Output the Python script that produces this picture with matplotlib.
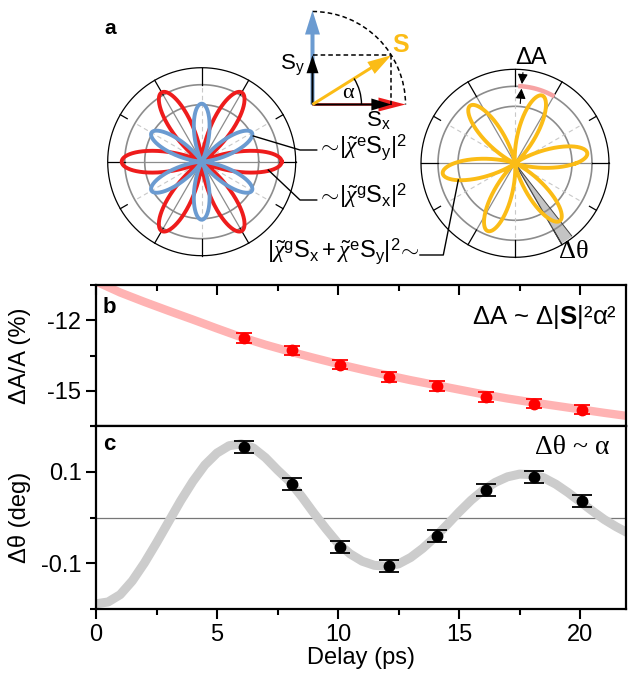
import numpy as np
import matplotlib
matplotlib.use("Agg")
import matplotlib.pyplot as plt
from matplotlib.patches import FancyArrow, Arc
from matplotlib.ticker import FixedLocator, MultipleLocator

plt.rcParams['font.family'] = ['Liberation Sans', 'DejaVu Sans']
plt.rcParams['mathtext.fontset'] = 'custom'
plt.rcParams['mathtext.rm'] = 'Liberation Sans'
plt.rcParams['mathtext.it'] = 'Liberation Serif:italic'
plt.rcParams['mathtext.bf'] = 'Liberation Sans:bold'
plt.rcParams['axes.unicode_minus'] = False

RED = '#ee1c1c'
BLUE = '#6b9bd1'
YELLOW = '#fbbc16'
PINK = '#ffb3b3'
GRAY = '#cccccc'

# ---- panel a : flower patterns (petal size in px of the polar frame) ----
red_amp = 80        # ~|chi_g Sx|^2
blue_amp = 58       # ~|chi_e Sy|^2
yellow_amp = 73     # ~|chi_g Sx + chi_e Sy|^2
yellow_rot = 8      # deg, rotation of the yellow pattern (delta theta)
alpha_deg = 32      # angle of S in the vector sketch

# ---- panel b ----
delay = [6.1, 8.1, 10.1, 12.1, 14.1, 16.1, 18.1, 20.1]
dA = [-12.76, -13.28, -13.89, -14.41, -14.79, -15.27, -15.55, -15.80]
dA_err = [0.2, 0.2, 0.2, 0.2, 0.2, 0.2, 0.2, 0.2]
fit_b_x = list(range(0, 23))
fit_b_y = [-10.35, -10.82, -11.22, -11.60, -11.97, -12.35, -12.72, -13.04,
           -13.33, -13.60, -13.86, -14.10, -14.33, -14.55, -14.75, -14.95,
           -15.15, -15.33, -15.49, -15.64, -15.79, -15.94, -16.08]

# ---- panel c ----
dth = [0.154, 0.073, -0.065, -0.105, -0.041, 0.060, 0.089, 0.037]
dth_err = [0.013, 0.013, 0.013, 0.013, 0.013, 0.013, 0.013, 0.013]
fit_c_x = np.arange(0, 22.5, 0.5)
fit_c_y = [-0.188, -0.184, -0.168, -0.138, -0.099, -0.055, -0.009, 0.037,
           0.079, 0.115, 0.141, 0.157, 0.161, 0.152, 0.131, 0.104, 0.079,
           0.046, 0.010, -0.024, -0.056, -0.079, -0.095, -0.104, -0.106,
           -0.101, -0.087, -0.067, -0.043, -0.016, 0.012, 0.038, 0.060,
           0.077, 0.089, 0.095, 0.094, 0.087, 0.073, 0.055, 0.035, 0.015,
           -0.004, -0.020, -0.034]

W, H = 628, 677
fig = plt.figure(figsize=(W / 100, H / 100), dpi=100)

R_OUT, R_MID, R_IN, R_BOX = 94, 77, 57, 97


def polar_frame(cx, cy):
    ax = fig.add_axes([(cx - R_BOX) / W, 1 - (cy + R_BOX) / H, 2 * R_BOX / W, 2 * R_BOX / H],
                      projection='polar')
    ax.set_rlim(0, R_BOX)
    ax.axis('off')
    th = np.linspace(0, 2 * np.pi, 361)
    ax.plot(th, np.full_like(th, R_OUT), color='black', lw=0.9)
    for r in (R_IN, R_MID):
        ax.plot(th, np.full_like(th, r), color='#8c8c8c', lw=1.2)
    for deg in range(0, 360, 30):
        t = np.deg2rad(deg)
        if deg % 60 == 0:
            ax.plot([t, t], [0, R_MID], color='#8c8c8c', lw=0.9)
        else:
            ax.plot([t, t], [0, R_MID], color='#c8c8c8', lw=0.8, ls=(0, (4, 3)))
        r0 = R_MID if (deg % 60 == 0 or deg % 90 == 0) else 86
        ax.plot([t, t], [r0, R_OUT], color='black', lw=0.9)
    return ax


theta = np.linspace(0, 2 * np.pi, 1441)

ax_l = polar_frame(201.7, 161.7)
ax_l.plot(theta, red_amp * np.cos(3 * theta) ** 2, color=RED, lw=2.8)
ax_l.plot(theta, blue_amp * np.sin(3 * theta) ** 2, color=BLUE, lw=2.8)

ax_r = polar_frame(515, 163.3)
wedge = np.deg2rad(np.linspace(-60, -60 + yellow_rot, 20))
ax_r.fill_between(wedge, 0, 92, color='#c4c4c4', lw=0)
for t in (wedge[0], wedge[-1]):
    ax_r.plot([t, t], [0, 92], color='#444444', lw=0.7)
arc_t = np.deg2rad(np.linspace(60, 88, 40))
ax_r.fill_between(arc_t, 75.5, 80, color='#f7a3a3', lw=0, zorder=3)
ax_r.plot(theta, yellow_amp * np.cos(3 * (theta - np.deg2rad(yellow_rot))) ** 2,
          color=YELLOW, lw=2.8, zorder=4)
ta = np.deg2rad(85)
for r_from, r_to in ((91, 79.5), (60, 75)):
    ax_r.annotate('', xy=(ta, r_to), xytext=(ta, r_from),
                  arrowprops=dict(arrowstyle='-|>', color='black', lw=0.8,
                                  mutation_scale=15, shrinkA=0, shrinkB=0),
                  zorder=5)

# ---- overlay in pixel coordinates for panel a sketch and labels ----
ov = fig.add_axes([0, 0, 1, 1])
ov.set_xlim(0, W)
ov.set_ylim(H, 0)
ov.axis('off')
ov.patch.set_visible(False)

ov.text(110, 28, 'a', fontsize=15, fontweight='bold', ha='center', va='center')

ox, oy = 312.5, 104.5
s_len = 93
sx = s_len * np.cos(np.deg2rad(alpha_deg))
sy = s_len * np.sin(np.deg2rad(alpha_deg))
ov.add_patch(Arc((ox, oy), 2 * s_len, 2 * s_len, theta1=-90, theta2=0,
                 color='black', lw=1.1, ls=(0, (3, 2))))
ov.plot([ox, ox + sx], [oy - sy, oy - sy], color='black', lw=1.1, ls=(0, (3, 2)))
ov.plot([ox + sx, ox + sx], [oy - sy, oy], color='black', lw=1.1, ls=(0, (3, 2)))
ov.add_patch(FancyArrow(ox, oy, 0, -94, width=4, head_width=15, head_length=24,
                        length_includes_head=True, color=BLUE, lw=0))
ov.add_patch(FancyArrow(ox, oy, 0, -sy, width=2, head_width=12, head_length=18,
                        length_includes_head=True, color='black', lw=0))
ov.add_patch(FancyArrow(ox, oy, 93, 0, width=2.4, head_width=14, head_length=27,
                        length_includes_head=True, color=RED, lw=0))
ov.add_patch(FancyArrow(ox, oy, sx, 0, width=2, head_width=12, head_length=20,
                        length_includes_head=True, color='black', lw=0))
ov.add_patch(FancyArrow(ox, oy, sx, -sy, width=3, head_width=14, head_length=24,
                        length_includes_head=True, color=YELLOW, lw=0))
ov.add_patch(Arc((ox, oy), 98, 98, theta1=-alpha_deg, theta2=0, color='black', lw=1))
ov.text(348, 94, 'α', fontsize=16, family='Liberation Serif', ha='center', va='center')
ov.text(401, 45, 'S', fontsize=18, fontweight='bold', color=YELLOW, ha='center', va='center')
ov.text(305, 65, r'S$_{\mathrm{y}}$', fontsize=16, ha='right', va='center')
ov.text(378, 120, r'S$_{\mathrm{x}}$', fontsize=16, ha='center', va='center')

ov.plot([253.3, 300, 316.7], [136, 150, 150], color='black', lw=1)
ov.text(317, 147, r'$\sim\!|\tilde{\chi}^{\mathrm{e}}\mathrm{S}_{\mathrm{y}}|^{2}$',
        fontsize=17, ha='left', va='center')
ov.plot([268.3, 300, 316.7], [170, 200, 200], color='black', lw=1)
ov.text(317, 196, r'$\sim\!|\tilde{\chi}^{\mathrm{g}}\mathrm{S}_{\mathrm{x}}|^{2}$',
        fontsize=17, ha='left', va='center')
ov.plot([458.3, 443.3, 420], [180, 255, 255], color='black', lw=1)
ov.text(420, 251, r'$|\tilde{\chi}^{\mathrm{g}}\mathrm{S}_{\mathrm{x}}+\tilde{\chi}^{\mathrm{e}}\mathrm{S}_{\mathrm{y}}|^{2}\!\sim$',
        fontsize=17, ha='right', va='center')
ov.text(531, 58, 'ΔA', fontsize=17, ha='center', va='center')
ov.text(574, 252, 'Δθ', fontsize=19, family='Liberation Serif', ha='center', va='center')

# ---- panels b and c ----
L, Wd = 96 / W, 530 / W
ax_b = fig.add_axes([L, 1 - 426 / H, Wd, 141 / H])
ax_c = fig.add_axes([L, 1 - 609.3 / H, Wd, 183.3 / H])

for ax in (ax_b, ax_c):
    ax.set_xlim(0, 21.9)
    for s in ax.spines.values():
        s.set_linewidth(1.6)
    ax.tick_params(labelsize=17, width=1.5)
    ax.tick_params(which='major', length=7)
    ax.tick_params(which='minor', length=4, width=1.5)
    ax.xaxis.set_major_locator(MultipleLocator(5))
    ax.xaxis.set_minor_locator(MultipleLocator(2.5))

ax_b.plot(fit_b_x, fit_b_y, color=PINK, lw=6, solid_capstyle='butt', zorder=1)
ax_b.errorbar(delay, dA, yerr=dA_err, fmt='o', color='#ff0000', ms=7.5,
              capsize=6, elinewidth=1.3, capthick=1.3, zorder=3)
ax_b.set_ylim(-16.5, -10.5)
ax_b.yaxis.set_major_locator(FixedLocator([-15, -12]))
ax_b.yaxis.set_minor_locator(FixedLocator([-16.5, -13.5, -10.5]))
ax_b.tick_params(axis='x', which='both', bottom=False, top=True, direction='in',
                 labelbottom=False)
ax_b.set_ylabel('ΔA/A (%)', fontsize=17)
ax_b.yaxis.set_label_coords(-0.122, 0.5)
ax_b.text(0.013, 0.84, 'b', transform=ax_b.transAxes, fontsize=16,
          fontweight='bold', ha='left', va='center')
ax_b.text(0.983, 0.77, r'ΔA ~ Δ|$\mathbf{S}$|²α²', transform=ax_b.transAxes,
          fontsize=18.5, ha='right', va='center')

ax_c.axhline(0, color='#777777', lw=0.9, zorder=1)
ax_c.plot(fit_c_x, fit_c_y, color=GRAY, lw=6.5, solid_capstyle='butt',
          solid_joinstyle='round', zorder=2)
ax_c.errorbar(delay, dth, yerr=dth_err, fmt='o', color='black', ms=7.5,
              capsize=7, elinewidth=1.3, capthick=1.3, zorder=3)
ax_c.set_ylim(-0.2, 0.2)
ax_c.yaxis.set_major_locator(FixedLocator([-0.1, 0.1]))
ax_c.yaxis.set_minor_locator(FixedLocator([-0.2, 0.0, 0.2]))
ax_c.set_yticklabels(['-0.1', '0.1'])
ax_c.set_xlabel('Delay (ps)', fontsize=17, labelpad=1)
ax_c.set_ylabel('Δθ (deg)', fontsize=17)
ax_c.yaxis.set_label_coords(-0.122, 0.5)
ax_c.text(0.013, 0.90, 'c', transform=ax_c.transAxes, fontsize=16,
          fontweight='bold', ha='left', va='center')
ax_c.text(0.968, 0.88, 'Δθ ~ α', transform=ax_c.transAxes, fontsize=20,
          family='Liberation Serif', ha='right', va='center')

fig.savefig('out.png', dpi=100)
